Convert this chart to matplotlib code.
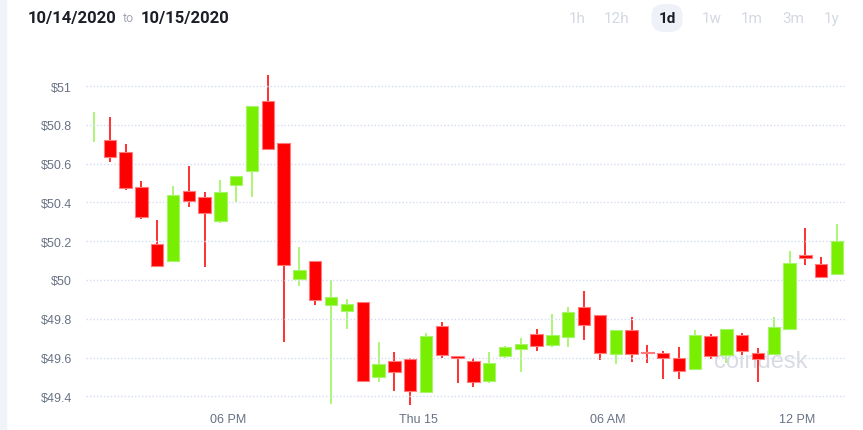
import numpy as np
import matplotlib
matplotlib.use("Agg")
import matplotlib.pyplot as plt
from matplotlib.patches import Rectangle

# half-hour candles, centre time in hours from 10/14 00:00
first_hour = 13.75
opens = [np.nan, 50.721, 50.660, 50.481, 50.184, 50.100, 50.457, 50.429, 50.305, 50.488,
         50.562, 50.921, 50.705, 50.003, 50.098, 49.869, 49.840, 49.888, 49.498, 49.583,
         49.593, 49.421, 49.760, 49.609, 49.583, 49.481, 49.609, 49.643, 49.721, 49.667,
         49.705, 49.862, 49.821, 49.616, 49.740, 49.626, 49.622, 49.598, 49.543, 49.712,
         49.614, 49.717, 49.624, 49.619, 49.747, 50.127, 50.081, 50.031]
closes = [np.nan, 50.634, 50.476, 50.326, 50.074, 50.436, 50.410, 50.348, 50.452, 50.536,
          50.895, 50.676, 50.076, 50.053, 49.898, 49.910, 49.878, 49.478, 49.566, 49.524,
          49.428, 49.710, 49.614, 49.597, 49.476, 49.572, 49.655, 49.672, 49.659, 49.717,
          49.833, 49.766, 49.622, 49.740, 49.617, 49.622, 49.598, 49.528, 49.714, 49.610,
          49.747, 49.636, 49.593, 49.755, 50.086, 50.115, 50.017, 50.202]
highs = [50.869, 50.843, 50.700, 50.509, 50.309, 50.483, 50.586, 50.452, 50.516, 50.538,
         50.895, 51.059, 50.705, 50.172, 50.098, 50.002, 49.903, 49.888, 49.679, 49.631,
         49.597, 49.728, 49.783, 49.610, 49.600, 49.628, 49.660, 49.703, 49.748, 49.826,
         49.860, 49.943, 49.821, 49.743, 49.809, 49.667, 49.633, 49.655, 49.743, 49.721,
         49.748, 49.729, 49.650, 49.810, 50.150, 50.269, 50.116, 50.291]
lows = [50.710, 50.609, 50.464, 50.312, 50.071, 50.100, 50.376, 50.066, 50.293, 50.402,
        50.426, 50.671, 49.679, 49.969, 49.869, 49.359, 49.745, 49.472, 49.472, 49.426,
        49.352, 49.416, 49.600, 49.471, 49.450, 49.469, 49.598, 49.524, 49.636, 49.652,
        49.652, 49.688, 49.588, 49.567, 49.576, 49.574, 49.490, 49.490, 49.543, 49.590,
        49.572, 49.612, 49.476, 49.619, 49.747, 50.076, 50.014, 50.031]
first_up = True  # first candle only shows its wick (green)

y_ticks = [49.4, 49.6, 49.8, 50.0, 50.2, 50.4, 50.6, 50.8, 51.0]
y_labels = ["$49.4", "$49.6", "$49.8", "$50", "$50.2", "$50.4", "$50.6", "$50.8", "$51"]
x_ticks = [18, 24, 30, 36]
x_labels = ["06 PM", "Thu 15", "06 AM", "12 PM"]
ranges = ["1h", "12h", "1d", "1w", "1m", "3m", "1y"]

UP = "#78ee00"
UP_EDGE = "#a6f46a"
DOWN = "#ff0000"
DOWN_EDGE = "#ff7a7a"
GRID = "#d3dcf0"
LABEL = "#687284"

W, H = 863, 431
fig = plt.figure(figsize=(W / 100, H / 100), dpi=100)
fig.patches.append(Rectangle((0, 0), 6 / W, 1, transform=fig.transFigure,
                             color="#f0f3f8", zorder=0))

ax = fig.add_axes([86 / W, (H - 406) / H, (845 - 86) / W, (406 - 60) / H])

x = first_hour + 0.5 * np.arange(len(highs))
o = np.array(opens)
c = np.array(closes)
up = c >= o
up[0] = first_up

for xi, hi, lo, u in zip(x, highs, lows, up):
    ax.vlines(xi, lo, hi, color=UP_EDGE if u else "#ff2020", lw=1.3, zorder=2)

body = c - o
ax.bar(x[up], body[up], bottom=o[up], width=0.39, color=UP,
       edgecolor=UP_EDGE, linewidth=0.8, zorder=3)
ax.bar(x[~up], body[~up], bottom=o[~up], width=0.39, color=DOWN,
       edgecolor=DOWN_EDGE, linewidth=0.8, zorder=3)

ax.set_xlim(13.5, 37.5)
ax.set_ylim(49.355, 51.14)
ax.set_yticks(y_ticks)
ax.set_yticklabels(y_labels)
ax.set_xticks(x_ticks)
ax.set_xticklabels(x_labels)
ax.grid(axis="y", color=GRID, linestyle=(0, (1, 1.5)), linewidth=1, zorder=4)
ax.set_axisbelow(False)
ax.tick_params(length=0, colors=LABEL, labelsize=9, pad=10)
ax.tick_params(axis="x", pad=6)
for lab in ax.get_xticklabels() + ax.get_yticklabels():
    lab.set_fontfamily("Liberation Sans")
for s in ax.spines.values():
    s.set_visible(False)

# watermark
ax.text(0.951, 0.127, "coindesk", transform=ax.transAxes, ha="right", va="center",
        fontsize=17, color="#cfd3dc", alpha=0.8, family="Liberation Sans", zorder=1)

# header
fig.text(28 / W, 1 - 18 / H, "10/14/2020", fontsize=12, weight="bold",
         family="Roboto", color="#1b1e27", va="center")
fig.text(123 / W, 1 - 19 / H, "to", fontsize=9, family="Roboto",
         color="#a3a9b6", va="center")
fig.text(141 / W, 1 - 18 / H, "10/15/2020", fontsize=12, weight="bold",
         family="Roboto", color="#1b1e27", va="center")

range_x = [577, 617, 667, 712, 752, 793, 832]
for lbl, rx in zip(ranges, range_x):
    if lbl == "1d":
        fig.text(rx / W, 1 - 19 / H, lbl, fontsize=11, weight="bold", family="Roboto",
                 color="#1b1e27", ha="center", va="center",
                 bbox=dict(boxstyle="round,pad=0.45,rounding_size=0.8",
                           fc="#eef1f7", ec="none"))
    else:
        fig.text(rx / W, 1 - 19 / H, lbl, fontsize=11, family="Roboto",
                 color="#d3d8e2", ha="center", va="center")

fig.savefig("out.png", dpi=100)
